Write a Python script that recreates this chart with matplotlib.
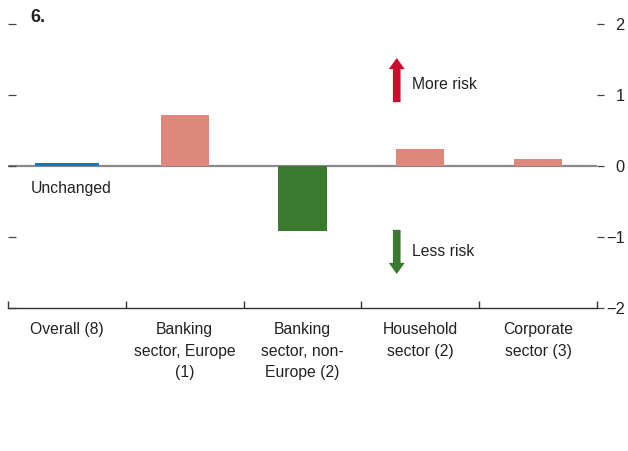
import matplotlib
matplotlib.use("Agg")
import matplotlib.pyplot as plt

# Data
categories = ["Overall (8)", "Banking\nsector, Europe\n(1)", "Banking\nsector, non-\nEurope (2)",
              "Household\nsector (2)", "Corporate\nsector (3)"]
values = [0.04, 0.72, -0.92, 0.24, 0.10]
bar_colors = ["#0F78C0", "#DE877B", "#3A7A2E", "#DE877B", "#DE877B"]
bar_widths = [0.54, 0.41, 0.41, 0.41, 0.41]
y_ticks = [-2, -1, 0, 1, 2]
y_labels = ["\u22122", "\u22121", "0", "1", "2"]

plt.rcParams["font.family"] = ["Liberation Sans", "DejaVu Sans"]
FS = 11.3

fig = plt.figure(figsize=(6.28, 4.51), dpi=100)
ax = fig.add_axes([8 / 628, 143 / 451, 589 / 628, 284 / 451])

positions = [i + 0.5 for i in range(len(categories))]
ax.bar(positions, values, width=bar_widths, color=bar_colors, zorder=2)

# zero line
ax.axhline(0, color="#8a8a8a", lw=1.6, zorder=1)

ax.set_xlim(0, len(categories))
ax.set_ylim(-2, 2)

# spines
for s in ["top", "left", "right"]:
    ax.spines[s].set_visible(False)
ax.spines["bottom"].set_color("#333333")
ax.spines["bottom"].set_linewidth(1.0)

# x ticks: separators at category boundaries, labels in the middle
ax.set_xticks(range(len(categories) + 1))
ax.set_xticklabels([])
ax.tick_params(axis="x", direction="in", length=5, color="#333333", width=1.0)
for p, lab in zip(positions, categories):
    ax.text(p, -2.2, lab, ha="center", va="top", fontsize=FS,
            color="#222222", linespacing=1.55)

# left: short dashes only
ax.set_yticks(y_ticks)
ax.set_yticklabels([])
ax.tick_params(axis="y", direction="in", length=6, width=0.9, color="#444444")

# right: dashes outside plus labels
sec = ax.secondary_yaxis("right")
sec.spines["right"].set_visible(False)
sec.set_yticks(y_ticks)
sec.set_yticklabels(y_labels)
sec.tick_params(axis="y", direction="out", length=5, width=0.9, color="#444444",
                labelsize=FS + 0.5, labelcolor="#222222", pad=15)
for t in sec.get_yticklabels():
    t.set_horizontalalignment("right")

# annotations
ax.annotate("", xy=(3.30, 1.56), xytext=(3.30, 0.86),
            arrowprops=dict(arrowstyle="simple,head_width=1.15,head_length=0.8,tail_width=0.55",
                            color="#C8102E", lw=0))
ax.annotate("", xy=(3.30, -1.56), xytext=(3.30, -0.86),
            arrowprops=dict(arrowstyle="simple,head_width=1.15,head_length=0.8,tail_width=0.55",
                            color="#3A7A2E", lw=0))
ax.text(3.43, 1.15, "More risk", fontsize=FS, va="center", ha="left", color="#222222")
ax.text(3.43, -1.21, "Less risk", fontsize=FS, va="center", ha="left", color="#222222")
ax.text(0.19, -0.31, "Unchanged", fontsize=FS, va="center", ha="left", color="#222222")
ax.text(0.19, 2.09, "6.", fontsize=13, fontweight="bold", va="center", ha="left",
        color="#222222", clip_on=False)

fig.savefig("out.png", dpi=100)
